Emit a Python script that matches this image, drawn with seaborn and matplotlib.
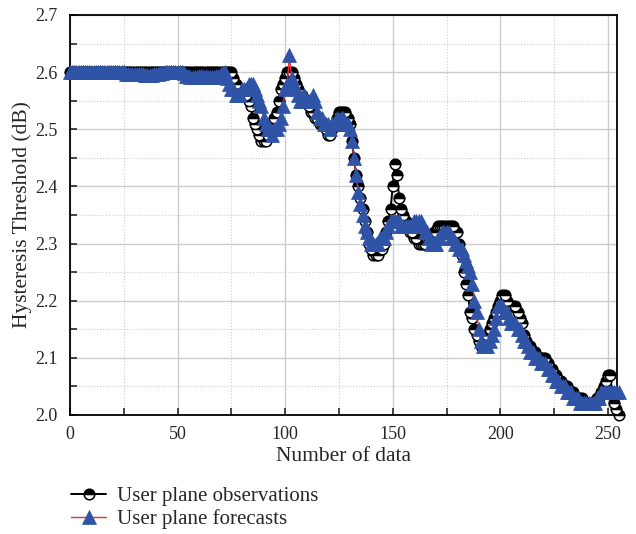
import matplotlib
matplotlib.use("Agg")
import matplotlib.pyplot as plt
import seaborn as sns
import numpy as np
from matplotlib.ticker import MultipleLocator, FormatStrFormatter

# sample index 0..255
n_data = np.arange(256)

# user plane observations (dB)
observations = [
    2.60, 2.60, 2.60, 2.60, 2.60, 2.60, 2.60, 2.60, 2.60, 2.60, 2.60, 2.60, 2.60, 2.60, 2.60, 2.60,
    2.60, 2.60, 2.60, 2.60, 2.60, 2.60, 2.60, 2.60, 2.60, 2.60, 2.60, 2.60, 2.60, 2.60, 2.60, 2.60,
    2.60, 2.60, 2.60, 2.60, 2.60, 2.60, 2.60, 2.60, 2.60, 2.60, 2.60, 2.60, 2.60, 2.60, 2.60, 2.60,
    2.60, 2.60, 2.60, 2.60, 2.60, 2.60, 2.60, 2.60, 2.60, 2.60, 2.60, 2.60, 2.60, 2.60, 2.60, 2.60,
    2.60, 2.60, 2.60, 2.60, 2.60, 2.60, 2.60, 2.60, 2.60, 2.60, 2.60, 2.60, 2.59, 2.58, 2.57, 2.57,
    2.56, 2.56, 2.56, 2.55, 2.54, 2.52, 2.51, 2.50, 2.49, 2.48, 2.48, 2.48, 2.49, 2.50, 2.51, 2.52,
    2.53, 2.55, 2.57, 2.58, 2.59, 2.60, 2.60, 2.60, 2.59, 2.58, 2.57, 2.56, 2.56, 2.55, 2.55, 2.54,
    2.53, 2.53, 2.52, 2.52, 2.51, 2.51, 2.51, 2.50, 2.49, 2.49, 2.50, 2.51, 2.52, 2.53, 2.53, 2.53,
    2.53, 2.52, 2.51, 2.48, 2.45, 2.42, 2.40, 2.38, 2.36, 2.34, 2.32, 2.30, 2.29, 2.28, 2.28, 2.28,
    2.29, 2.29, 2.30, 2.32, 2.34, 2.36, 2.40, 2.44, 2.42, 2.38, 2.36, 2.35, 2.34, 2.33, 2.32, 2.32,
    2.31, 2.31, 2.30, 2.30, 2.30, 2.30, 2.31, 2.31, 2.31, 2.32, 2.32, 2.33, 2.33, 2.33, 2.33, 2.33,
    2.33, 2.33, 2.33, 2.32, 2.32, 2.30, 2.28, 2.25, 2.23, 2.21, 2.18, 2.17, 2.15, 2.14, 2.13, 2.12,
    2.12, 2.13, 2.14, 2.15, 2.16, 2.17, 2.18, 2.19, 2.20, 2.21, 2.21, 2.20, 2.19, 2.19, 2.19, 2.19,
    2.18, 2.17, 2.16, 2.14, 2.13, 2.12, 2.12, 2.11, 2.11, 2.10, 2.10, 2.10, 2.10, 2.10, 2.09, 2.08,
    2.08, 2.07, 2.07, 2.06, 2.06, 2.05, 2.05, 2.05, 2.04, 2.04, 2.04, 2.03, 2.03, 2.03, 2.03, 2.02,
    2.02, 2.02, 2.02, 2.02, 2.02, 2.03, 2.03, 2.04, 2.05, 2.06, 2.07, 2.07, 2.04, 2.02, 2.01, 2.00,
]

# user plane forecasts (dB)
forecasts = [
    2.600, 2.600, 2.600, 2.600, 2.600, 2.600, 2.600, 2.600, 2.600, 2.600, 2.600, 2.600, 2.600, 2.600, 2.600, 2.600,
    2.600, 2.600, 2.600, 2.600, 2.600, 2.600, 2.600, 2.600, 2.600, 2.600, 2.597, 2.597, 2.596, 2.596, 2.596, 2.596,
    2.596, 2.596, 2.596, 2.595, 2.595, 2.595, 2.595, 2.596, 2.596, 2.597, 2.598, 2.599, 2.600, 2.600, 2.600, 2.600,
    2.600, 2.600, 2.600, 2.600, 2.600, 2.598, 2.594, 2.593, 2.592, 2.592, 2.592, 2.592, 2.593, 2.593, 2.593, 2.593,
    2.592, 2.592, 2.592, 2.592, 2.593, 2.594, 2.596, 2.598, 2.600, 2.590, 2.580, 2.570, 2.570, 2.560, 2.560, 2.560,
    2.570, 2.570, 2.570, 2.580, 2.580, 2.580, 2.570, 2.560, 2.550, 2.540, 2.520, 2.510, 2.500, 2.500, 2.490, 2.500,
    2.500, 2.510, 2.520, 2.540, 2.570, 2.580, 2.630, 2.590, 2.580, 2.570, 2.560, 2.550, 2.550, 2.560, 2.550, 2.550,
    2.550, 2.560, 2.550, 2.530, 2.520, 2.520, 2.510, 2.510, 2.510, 2.500, 2.510, 2.510, 2.520, 2.510, 2.520, 2.520,
    2.510, 2.510, 2.500, 2.480, 2.450, 2.420, 2.390, 2.370, 2.350, 2.330, 2.320, 2.310, 2.300, 2.300, 2.300, 2.300,
    2.310, 2.310, 2.310, 2.320, 2.330, 2.340, 2.340, 2.340, 2.340, 2.340, 2.330, 2.330, 2.330, 2.330, 2.330, 2.330,
    2.340, 2.340, 2.340, 2.340, 2.330, 2.320, 2.320, 2.310, 2.300, 2.300, 2.300, 2.310, 2.310, 2.320, 2.320, 2.320,
    2.320, 2.310, 2.310, 2.300, 2.300, 2.290, 2.290, 2.280, 2.270, 2.260, 2.250, 2.230, 2.200, 2.180, 2.150, 2.130,
    2.120, 2.120, 2.120, 2.130, 2.140, 2.150, 2.170, 2.190, 2.190, 2.190, 2.180, 2.180, 2.170, 2.160, 2.160, 2.160,
    2.150, 2.150, 2.140, 2.130, 2.130, 2.120, 2.110, 2.110, 2.100, 2.100, 2.100, 2.090, 2.090, 2.090, 2.080, 2.080,
    2.070, 2.070, 2.060, 2.060, 2.050, 2.050, 2.050, 2.040, 2.040, 2.040, 2.030, 2.030, 2.030, 2.020, 2.020, 2.020,
    2.020, 2.020, 2.020, 2.020, 2.020, 2.030, 2.030, 2.040, 2.040, 2.040, 2.040, 2.040, 2.040, 2.040, 2.040, 2.040,
]

sns.set_style("ticks")
plt.rcParams['font.family'] = ['Liberation Serif', 'DejaVu Serif']

fig, ax = plt.subplots(figsize=(6.36, 5.34), dpi=100)
fig.subplots_adjust(left=0.110, right=0.970, top=0.972, bottom=0.223)

# observations: black line, half filled circles
sns.lineplot(x=n_data, y=observations, ax=ax, color='black', lw=1.4,
             marker='o', markersize=7.6, fillstyle='top',
             markerfacecolor='black', markerfacecoloralt='white',
             markeredgecolor='black', markeredgewidth=1.1,
             clip_on=False, zorder=3, label='User plane observations')

# forecasts: red line, blue triangles
sns.lineplot(x=n_data, y=forecasts, ax=ax, color='#e8303a', lw=1.0,
             marker='^', markersize=9.5, markerfacecolor='#2f53a6',
             markeredgecolor='#2f53a6', markeredgewidth=0.5,
             clip_on=False, zorder=4, label='User plane forecasts')

ax.set_xlim(0, 254.2)
ax.set_ylim(2.0, 2.7)
ax.xaxis.set_major_locator(MultipleLocator(50))
ax.xaxis.set_minor_locator(MultipleLocator(25))
ax.yaxis.set_major_locator(MultipleLocator(0.1))
ax.yaxis.set_minor_locator(MultipleLocator(0.05))
ax.yaxis.set_major_formatter(FormatStrFormatter('%.1f'))

ax.grid(which='major', color='#cccccc', lw=1.0, ls='-')
ax.grid(which='minor', color='#cccccc', lw=0.8, ls=':')
ax.set_axisbelow(True)

ax.tick_params(which='both', direction='in', length=5, width=1.2,
               labelsize=13, top=False, right=False)
ax.tick_params(axis='y', which='both', pad=9)
ax.tick_params(axis='x', which='both', pad=8)
for side in ['left', 'bottom', 'top', 'right']:
    ax.spines[side].set_linewidth(1.3)
    ax.spines[side].set_color('black')

ax.set_xlabel('Number of data', fontsize=15.5, labelpad=3)
ax.set_ylabel('Hysteresis Threshold (dB)', fontsize=15.5, labelpad=2)

handles, labels = ax.get_legend_handles_labels()
ax.legend().remove()
fig.legend(handles, labels, loc='upper left', bbox_to_anchor=(0.095, 0.108),
           frameon=False, fontsize=15, handlelength=1.7, handletextpad=0.5,
           labelspacing=0.15, borderpad=0)

fig.savefig('out.png', dpi=100)
